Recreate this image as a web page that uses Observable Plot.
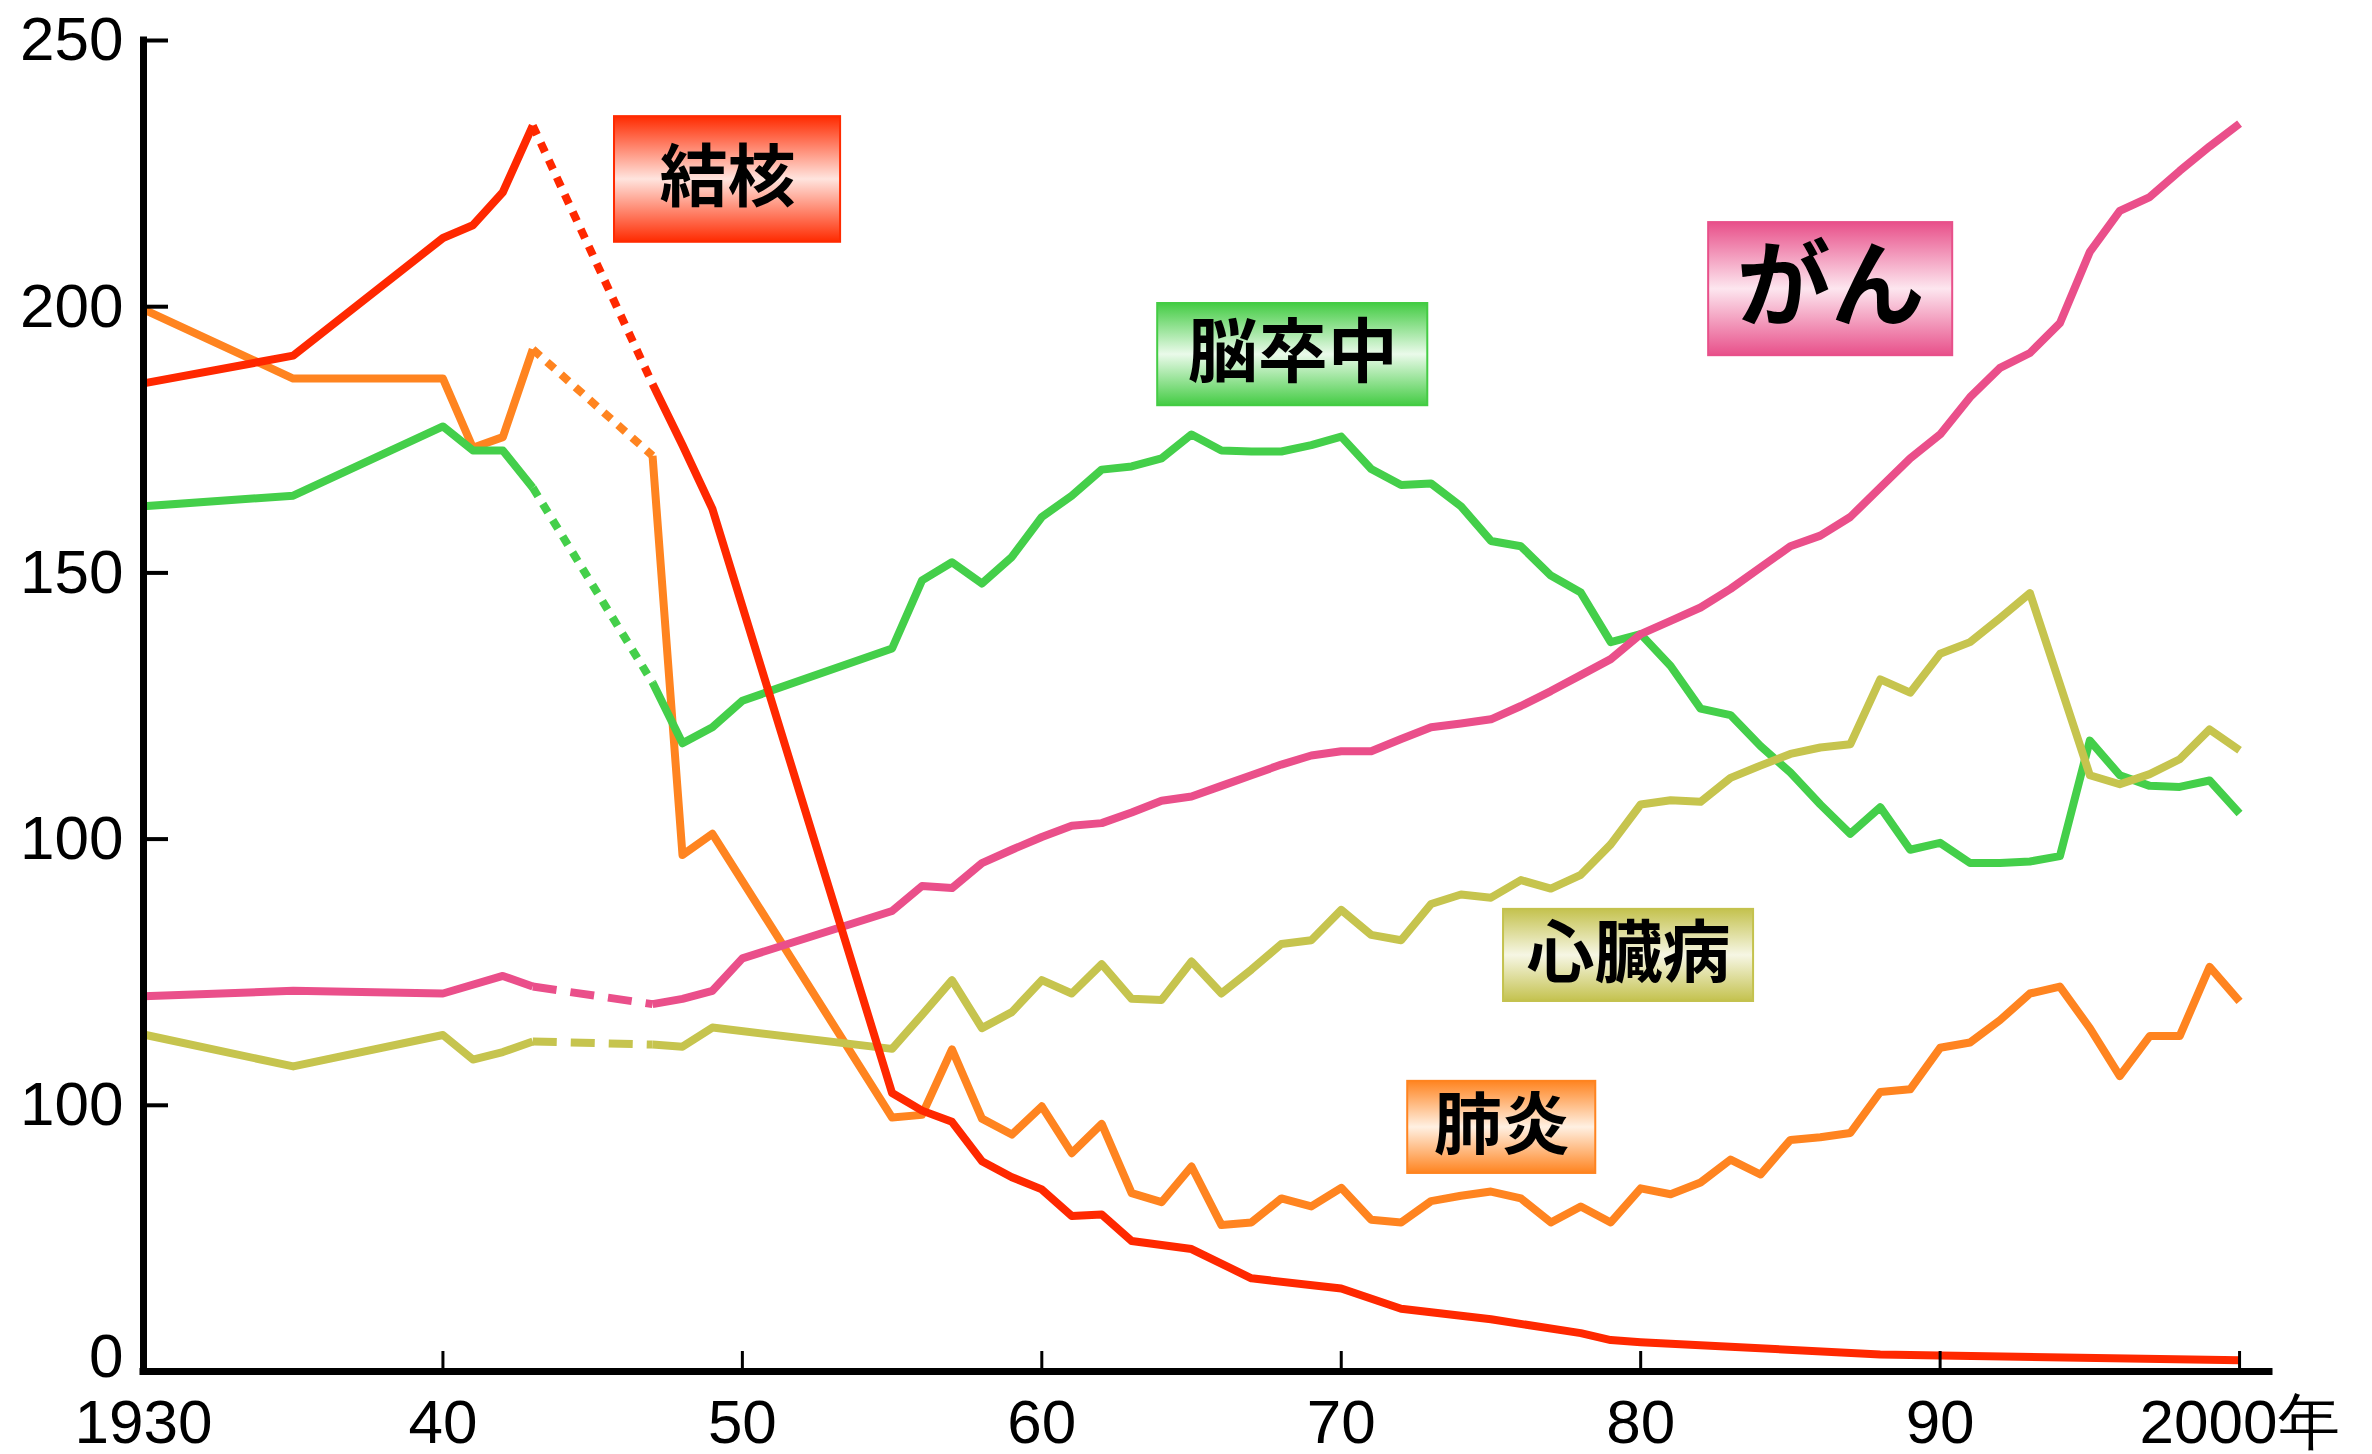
<!DOCTYPE html>
<html>
<head>
<meta charset="utf-8">
<script src="https://cdn.jsdelivr.net/npm/d3@7"></script>
<script src="https://cdn.jsdelivr.net/npm/@observablehq/plot@0.6"></script>
<style>
  html, body { margin: 0; padding: 0; background: #ffffff; }
  #chart svg { display: block; }
</style>
</head>
<body>
<div id="chart"></div>
<script>
// ---------- data (death rates per 100,000) ----------
const tbYears = [1930,1935,1940,1941,1942,1943,1947,1948,1949,1955,1956,1957,1958,1959,1960,1961,1962,1963,1965,1967,1970,1972,1975,1978,1979,1980,1988,1990,2000];
const tbValues = [185.6,190.8,212.9,215.3,221.5,234.0,185.5,174,162,52.3,49.0,46.9,39.5,36.5,34.2,29.2,29.5,24.5,23.0,17.5,15.6,11.8,9.8,7.2,5.9,5.5,3.2,3.0,2.1];

const pneumoniaYears = [1930,1935,1940,1941,1942,1943,1947,1948,1949,1955,1956,1957,1958,1959,1960,1961,1962,1963,1964,1965,1966,1967,1968,1969,1970,1971,1972,1973,1974,1975,1976,1977,1978,1979,1980,1981,1982,1983,1984,1985,1986,1987,1988,1989,1990,1991,1992,1993,1994,1995,1996,1997,1998,1999,2000];
const pneumoniaValues = [199.5,186.5,186.5,173.5,175.5,192.0,172.0,97.0,101.0,47.7,48.2,60.5,47.5,44.5,49.8,41.0,46.5,33.5,31.8,38.5,27.5,28.0,32.5,31.0,34.5,28.5,28.0,32.0,33.0,33.8,32.5,28.0,31.0,28.0,34.4,33.3,35.5,39.8,37.0,43.5,44.0,44.8,52.5,53.0,60.8,61.8,66.0,71.0,72.3,64.5,55.5,63.0,63.0,76.0,69.5];

const strokeYears = [1930,1935,1940,1941,1942,1943,1947,1948,1949,1950,1955,1956,1957,1958,1959,1960,1961,1962,1963,1964,1965,1966,1967,1968,1969,1970,1971,1972,1973,1974,1975,1976,1977,1978,1979,1980,1981,1982,1983,1984,1985,1986,1987,1988,1989,1990,1991,1992,1993,1994,1995,1996,1997,1998,1999,2000];
const strokeValues = [162.5,164.5,177.5,173.0,173.0,166.0,129.4,118.0,121.0,126.0,135.8,148.6,152.0,148.0,153.0,160.5,164.5,169.4,170.0,171.5,176.0,173.0,172.8,172.8,174.0,175.6,169.5,166.5,166.8,162.5,156.0,155.0,149.5,146.3,137.0,138.5,132.5,124.5,123.3,117.5,112.5,106.5,101.0,106.0,98.0,99.3,95.5,95.5,95.8,96.8,118.5,112.0,110.0,109.8,111.0,104.8];

const cancerYears = [1930,1935,1940,1942,1943,1947,1948,1949,1950,1955,1956,1957,1958,1959,1960,1961,1962,1963,1964,1965,1966,1967,1968,1969,1970,1971,1972,1973,1974,1975,1976,1977,1978,1979,1980,1981,1982,1983,1984,1985,1986,1987,1988,1989,1990,1991,1992,1993,1994,1995,1996,1997,1998,1999,2000];
const cancerValues = [70.5,71.5,71.0,74.3,72.3,69.0,70.0,71.5,77.6,86.5,91.2,90.8,95.5,98.0,100.4,102.5,103.0,105.0,107.2,108.0,110.0,112.0,114.0,115.7,116.5,116.5,118.8,121.0,121.7,122.5,125.0,127.8,130.8,133.8,138.5,141.0,143.5,147.0,151.0,155.0,157.0,160.5,166.0,171.5,176.0,183.0,188.5,191.3,196.9,210.3,218.0,220.6,225.5,230.1,234.4];

const heartYears = [1930,1935,1940,1941,1942,1943,1947,1948,1949,1955,1956,1957,1958,1959,1960,1961,1962,1963,1964,1965,1966,1967,1968,1969,1970,1971,1972,1973,1974,1975,1976,1977,1978,1979,1980,1981,1982,1983,1984,1985,1986,1987,1988,1989,1990,1991,1992,1993,1995,1996,1997,1998,1999,2000];
const heartValues = [63.3,57.3,63.2,58.6,60.0,62.0,61.4,61.0,64.6,60.6,67.0,73.5,64.5,67.5,73.5,71.0,76.5,70.0,69.8,77.0,71.0,75.5,80.3,81.0,86.7,82.0,81.0,87.8,89.6,89.0,92.3,90.7,93.3,99.0,106.5,107.3,107.0,111.5,113.8,116.0,117.2,117.8,130.0,127.5,134.8,137.0,141.5,146.2,112.0,110.3,112.2,115.0,120.6,116.7];

// ---------- axes ----------
const xTicks = [1930,1940,1950,1960,1970,1980,1990,2000];
const xTickLabels = ["1930","40","50","60","70","80","90","2000年"];
const yTicks = [0,50,100,150,200,250];
const yTickLabels = ["0","100","100","150","200","250"];

// ---------- label annotations (box corners in data units) ----------
const labelNames  = ["結核","脳卒中","がん","心臓病","肺炎"];
const labelX1     = [1945.73,1963.87,1982.27,1975.42,1972.22];
const labelX2     = [1953.28,1972.89,1990.42,1983.77,1978.50];
const labelY1     = [212.1,181.4,190.8,69.5,37.2];
const labelY2     = [235.7,200.6,215.8,86.8,54.5];
const labelColors = ["#ff2a00","#44cc44","#e8508a","#c4c24e","#ff8420"];
const labelLights = ["#ffe4de","#eafaea","#fde6ef","#f6f6e4","#fff0e2"];
const labelSizes  = [68,70,94,68,68];

// ---------- series styling ----------
const series = [
  {years: pneumoniaYears, values: pneumoniaValues, color: "#ff8420", dash: "10,9"},
  {years: strokeYears,    values: strokeValues,    color: "#44cf4a", dash: "10,9"},
  {years: heartYears,     values: heartValues,     color: "#c6c44e", dash: "24,14"},
  {years: cancerYears,    values: cancerValues,    color: "#ea4f8a", dash: "24,14"},
  {years: tbYears,        values: tbValues,        color: "#ff2800", dash: "10,9"}
];

const W = 2372, H = 1454;
const mL = 143, mR = 103, mT = 40, mB = 83;
const frameW = W - mL - mR, frameH = H - mT - mB;
const LW = 8;

const marks = [];
for (const s of series) {
  const rows = s.years.map((y, i) => ({year: y, value: s.values[i], seg: y <= 1943 ? "pre" : "post"}));
  marks.push(Plot.line(rows, {x: "year", y: "value", z: "seg", stroke: s.color, strokeWidth: LW,
    strokeLinejoin: "round", strokeLinecap: "butt"}));
  marks.push(Plot.line(rows.filter(d => d.year === 1943 || d.year === 1947), {x: "year", y: "value",
    stroke: s.color, strokeWidth: LW, strokeDasharray: s.dash, strokeLinecap: "butt"}));
}

// axis lines and ticks
marks.push(Plot.ruleX([1930], {stroke: "black", strokeWidth: 7, strokeLinecap: "square"}));
marks.push(Plot.ruleY([0], {stroke: "black", strokeWidth: 7, strokeLinecap: "square"}));
marks.push(Plot.tickY(yTicks.slice(1), {y: d => d, stroke: "black", strokeWidth: 4, insetRight: frameW - 25}));
marks.push(Plot.tickX(xTicks.slice(1), {x: d => d, stroke: "black", strokeWidth: 3, insetTop: frameH - 20}));
marks.push(Plot.axisY(yTicks.slice(1), {tickSize: 0, tickPadding: 20, fontSize: 62, label: null,
  tickFormat: d => yTickLabels[yTicks.indexOf(d)]}));
marks.push(Plot.axisY(yTicks.slice(0, 1), {tickSize: 0, tickPadding: 20, fontSize: 62, label: null, dy: -14,
  tickFormat: d => yTickLabels[yTicks.indexOf(d)]}));
marks.push(Plot.axisX(xTicks, {tickSize: 0, tickPadding: 27, fontSize: 62, label: null,
  tickFormat: d => xTickLabels[xTicks.indexOf(d)]}));

// label boxes + text
const labelRows = labelNames.map((n, i) => ({name: n, x1: labelX1[i], x2: labelX2[i], y1: labelY1[i], y2: labelY2[i], i}));
labelRows.forEach((r, i) => {
  marks.push(Plot.rect([r], {x1: "x1", x2: "x2", y1: "y1", y2: "y2",
    fill: `url(#lblgrad${i})`, stroke: labelColors[i], strokeWidth: 2, ariaLabel: "label-box"}));
});
labelRows.forEach((r, i) => {
  marks.push(Plot.text([r], {x: d => (d.x1 + d.x2) / 2, y: d => (d.y1 + d.y2) / 2, text: "name",
    fontSize: labelSizes[i], fontWeight: "bold", fill: "black", lineAnchor: "middle",
    fontFamily: "'Noto Sans CJK JP', 'Noto Sans', sans-serif", ariaLabel: "label-text"}));
});

const svg = Plot.plot({
  width: W, height: H,
  marginLeft: mL, marginRight: mR, marginTop: mT, marginBottom: mB,
  x: {domain: [1930, 2001]},
  y: {domain: [0, 250]},
  style: {fontFamily: "'Liberation Sans', Arial, sans-serif", fontSize: "62px", background: "#ffffff", color: "black", overflow: "visible"},
  marks
});

// gradients, shadow, glow
const ns = "http://www.w3.org/2000/svg";
const defs = document.createElementNS(ns, "defs");
let html = "";
labelColors.forEach((c, i) => {
  html += `<linearGradient id="lblgrad${i}" x1="0" y1="0" x2="0" y2="1">
    <stop offset="0" stop-color="${c}"/>
    <stop offset="0.5" stop-color="${labelLights[i]}"/>
    <stop offset="1" stop-color="${c}"/>
  </linearGradient>`;
});
html += `<filter id="lblshadow" x="-10%" y="-10%" width="130%" height="140%">
   <feDropShadow dx="6" dy="8" stdDeviation="5" flood-color="#000" flood-opacity="0.45"/>
 </filter>
 <filter id="lblglow" x="-20%" y="-30%" width="140%" height="160%">
   <feMorphology in="SourceAlpha" operator="dilate" radius="2" result="d"/>
   <feGaussianBlur in="d" stdDeviation="3" result="b"/>
   <feFlood flood-color="#ffffff"/>
   <feComposite in2="b" operator="in" result="g"/>
   <feMerge><feMergeNode in="g"/><feMergeNode in="g"/><feMergeNode in="SourceGraphic"/></feMerge>
 </filter>`;
defs.innerHTML = html;
svg.insertBefore(defs, svg.firstChild);
svg.querySelectorAll('g[aria-label="label-box"]').forEach(g => g.setAttribute("filter", "url(#lblshadow)"));
svg.querySelectorAll('g[aria-label="label-text"]').forEach(g => g.setAttribute("filter", "url(#lblglow)"));

document.getElementById("chart").appendChild(svg);
</script>
</body>
</html>
